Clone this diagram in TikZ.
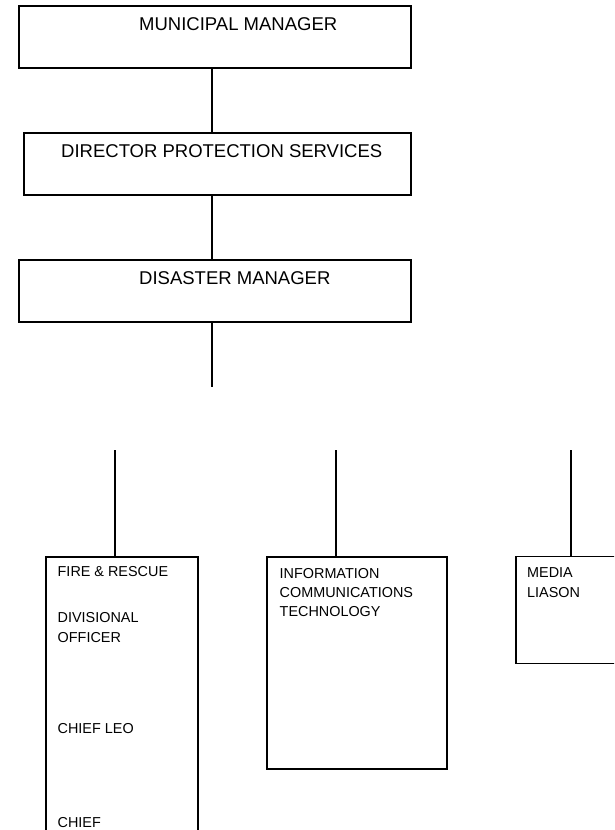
\documentclass[tikz,border=0pt]{standalone}
\usepackage{fontspec}
\setmainfont{Liberation Sans}
\usetikzlibrary{positioning}

\begin{document}
\begin{tikzpicture}[
    x=1pt, y=-1pt,
    post/.style={rectangle, draw=black, line width=1.6pt, inner sep=0pt},
    bigtext/.style={anchor=base west, inner sep=0pt, font=\fontsize{18.5}{22}\selectfont},
    smalltext/.style={anchor=base west, inner sep=0pt, font=\fontsize{14.4}{18}\selectfont},
    link/.style={line width=1.3pt}
]
\clip (0,0) rectangle (614,830);

% ==== Management chain ====
\node[post, minimum width=392pt, minimum height=62pt] (municipal) at (215,37) {};
\node[post, minimum width=387pt, minimum height=62pt] (director) at (217.5,164) {};
\node[post, minimum width=392pt, minimum height=62pt] (disaster) at (215,291) {};

\node[bigtext] (municipaltxt) at (139,30) {MUNICIPAL MANAGER};
\node[bigtext] (directortxt) at (61,157) {DIRECTOR PROTECTION SERVICES};
\node[bigtext] (disastertxt) at (139,284) {DISASTER MANAGER};

% ==== Chain lines ====
\coordinate (spine) at (212,0);
\coordinate (stubend) at (212,387);
\draw[link] (municipal.south -| spine) -- (director.north -| spine);
\draw[link] (director.south -| spine) -- (disaster.north -| spine);
\draw[link] (disaster.south -| spine) -- (stubend);

% ==== Units ====
\node[post, minimum width=152pt, minimum height=343pt] (fire) at (121.7,728.4) {};
\node[post, minimum width=180pt, minimum height=212.3pt] (ict) at (356.7,662.9) {};
\node[post, minimum width=124pt, minimum height=107pt] (media) at (577.7,609.8) {};

\node[smalltext] (firetxt) at (57.5,576.5) {FIRE \& RESCUE};
\node[smalltext] (divtxt) at (57.5,622.5) {DIVISIONAL};
\node[smalltext] (officertxt) at (57.5,642) {OFFICER};
\node[smalltext] (leotxt) at (57.5,733.5) {CHIEF LEO};
\node[smalltext] (chieftxt) at (57.5,827) {CHIEF};

\node[smalltext] (infotxt) at (279.5,578) {INFORMATION};
\node[smalltext] (commtxt) at (279.5,597) {COMMUNICATIONS};
\node[smalltext] (techtxt) at (279.5,616) {TECHNOLOGY};

\node[smalltext] (mediatxt) at (527,577) {MEDIA};
\node[smalltext] (liasontxt) at (527,597) {LIASON};

% ==== Unit lines ====
\coordinate (firetop) at (115,450);
\coordinate (icttop) at (336,450);
\coordinate (mediatop) at (571,450);
\draw[link] (firetop) -- (firetop |- fire.north);
\draw[link] (icttop) -- (icttop |- ict.north);
\draw[link] (mediatop) -- (mediatop |- media.north);

\end{tikzpicture}
\end{document}
